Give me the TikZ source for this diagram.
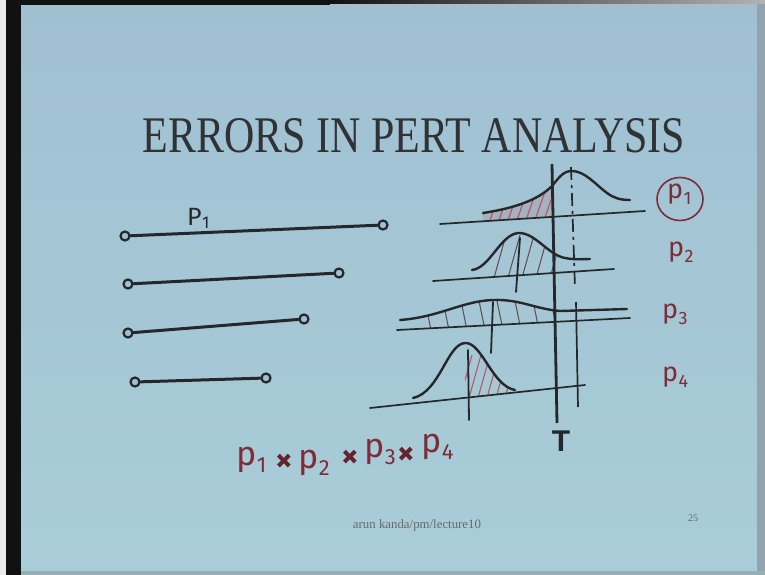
\documentclass[tikz,border=0pt]{standalone}
\usepackage{fontspec}
\usetikzlibrary{shapes.geometric}
\setmainfont{Liberation Serif}
\newfontfamily\handfont{Fira Sans}
\newfontfamily\markfont{Liberation Sans}
\definecolor{slidetop}{HTML}{A0C0D2}
\definecolor{slidelow}{HTML}{A9CDD8}
\definecolor{ink}{HTML}{25282B}
\definecolor{redink}{HTML}{7E2C38}
\definecolor{hatchred}{HTML}{B45A62}
\definecolor{hatchdark}{HTML}{5E4A50}
\definecolor{framedark}{HTML}{111111}
\newcommand\psub[2]{p\kern0.5pt\raisebox{-0.22em}{\fontsize{#2}{#2}\selectfont #1}}
\begin{document}
\begin{tikzpicture}[x=1pt,y=-1pt,
  penline/.style={ink,line width=3pt,line cap=round},
  endpt/.style={circle,draw=ink,line width=2.2pt,fill=slidetop,inner sep=0pt,minimum size=9pt},
  curveline/.style={ink,line width=2.4pt,line cap=round},
  axisline/.style={ink,line width=1.7pt,line cap=round},
  markline/.style={ink,line width=1.8pt,line cap=round},
  hatchline/.style={hatchdark,line width=1pt},
  smallp/.style={font=\handfont\fontsize{27}{27}\selectfont,text=redink,inner sep=0pt,anchor=mid west},
  bigp/.style={font=\handfont\fontsize{34}{34}\selectfont,text=redink,inner sep=0pt,anchor=mid west},
  timessign/.style={font=\handfont\bfseries\fontsize{34}{34}\selectfont,text=redink!80!black,inner sep=0pt}
]
\useasboundingbox (0,0) rectangle (765,575);
% slide background and frame
\shade[top color=slidetop,bottom color=slidelow] (0,0) rectangle (765,575);
\fill[framedark] (0,0) rectangle (21,575);
\fill[gray!15] (0,0) rectangle (6,575);
\fill[framedark] (6,0) rectangle (330,5);
\shade[left color=framedark,right color=gray!60] (330,0) rectangle (765,4);
\fill[gray!45!slidetop] (757,4) rectangle (765,575);
\fill[gray!40!slidelow] (21,571) rectangle (765,575);

% title
\node[anchor=base,inner sep=0pt,text=ink!95] (title) at (414,153)
  {\resizebox{542pt}{34pt}{\fontsize{48}{48}\selectfont ERRORS IN PERT ANALYSIS}};

% activity lines
\node[endpt] (a1) at (125,236) {};
\node[endpt] (b1) at (383,225) {};
\node[endpt] (a2) at (128,284) {};
\node[endpt] (b2) at (339,273) {};
\node[endpt] (a3) at (128,333) {};
\node[endpt] (b3) at (304,319) {};
\node[endpt] (a4) at (135,382) {};
\node[endpt] (b4) at (266,378) {};
\draw[penline] (a1) -- (b1);
\draw[penline] (a2) -- (b2);
\draw[penline] (a3) -- (b3);
\draw[penline] (a4) -- (b4);
\node[font=\handfont\fontsize{25}{25}\selectfont,text=ink,anchor=base west,inner sep=0pt] (lp1) at (187,225) {P\kern0.5pt\raisebox{-0.12em}{\fontsize{17}{17}\selectfont 1}};

% distribution 1
\begin{scope}
\clip (483,213) .. controls (515,208) and (538,200) .. (552,186) -- (553,217) -- (483,221.5) -- cycle;
\fill[hatchred,opacity=0.18] (470,160) rectangle (560,230);
\foreach \x in {470,479,...,560} \draw[hatchred,line width=1.2pt] (\x,226) -- (\x+16,180);
\end{scope}
\draw[axisline] (440,224) -- (645,211);
\draw[curveline] (483,213) .. controls (515,208) and (538,200) .. (552,186)
  .. controls (560,176) and (564,171) .. (572,171)
  .. controls (585,171) and (596,185) .. (607,193)
  .. controls (614,198) and (620,200) .. (630,200);

% distribution 2
\begin{scope}
\clip (472,270) .. controls (490,268) and (500,235) .. (518,233) .. controls (535,232) and (548,255) .. (565,258) .. controls (575,260) and (583,259) .. (590,259) -- (590,270.6) -- (472,278.4) -- cycle;
\foreach \x in {492,506,...,560} \draw[hatchline] (\x,285) -- (\x+14,235);
\end{scope}
\draw[axisline] (433,281) -- (614,269);
\draw[curveline] (472,270) .. controls (490,268) and (500,235) .. (518,233)
  .. controls (535,232) and (548,255) .. (565,258)
  .. controls (575,260) and (583,259) .. (590,259);
\draw[markline] (520,238) -- (516,292);

% distribution 3
\begin{scope}
\clip (402,319) .. controls (440,317) and (462,301) .. (493,300) .. controls (520,299) and (535,309) .. (560,311) -- (560,321.3) -- (402,329.7) -- cycle;
\foreach \x in {424,442,...,552} \draw[hatchline] (\x,296) -- (\x+8,335);
\end{scope}
\draw[curveline] (400,320) .. controls (440,317) and (462,301) .. (493,300)
  .. controls (520,299) and (535,309) .. (560,311) -- (627,309);
\draw[axisline] (397,330) -- (630,318);
\draw[markline] (493,302) -- (491,353);

% distribution 4
\begin{scope}
\clip (465,343) .. controls (482,342) and (492,386) .. (515,390) -- (515,392.5) -- (465,397.8) -- cycle;
\foreach \x in {458,467,...,515} \draw[hatchred,line width=1.1pt] (\x,405) -- (\x+14,355);
\end{scope}
\draw[axisline] (370,408) -- (585,385);
\draw[curveline] (413,398) .. controls (440,392) and (447,344) .. (465,343)
  .. controls (482,342) and (492,386) .. (515,390);
\draw[markline] (468,350) -- (469,420);

% limit T and mean line
\node[font=\markfont\bfseries\fontsize{30}{30}\selectfont,text=ink,anchor=north,inner sep=0pt] (tl) at (561,431) {T};
\coordinate (ttop) at (552,164);
\coordinate (tbot) at (557,423);
\draw[ink,line width=2.8pt] (ttop) -- (tbot);
\coordinate (dtop) at (571,167);
\coordinate (dmid) at (575,288);
\coordinate (dlow) at (576,302);
\coordinate (dbot) at (578,407);
\draw[ink,line width=1.7pt,dash pattern=on 13pt off 5pt on 3pt off 5pt] (dtop) -- (dmid);
\draw[ink,line width=1.7pt] (dlow) -- (dbot);

% right labels
\node[smallp] (r1) at (667,196) {\psub{1}{18}};
\node[ellipse,draw=redink,line width=1.6pt,minimum width=46pt,minimum height=43pt,inner sep=0pt] (ring) at (680,199) {};
\node[smallp] (r2) at (668,254) {\psub{2}{18}};
\node[smallp] (r3) at (662,316) {\psub{3}{18}};
\node[smallp] (r4) at (662,379) {\psub{4}{18}};

% product
\node[bigp] (f1) at (236,463) {\psub{1}{22}};
\node[timessign] (x1) at (284,463) {×};
\node[bigp] (f2) at (298,466) {\psub{2}{22}};
\node[timessign] (x2) at (350,459) {×};
\node[bigp] (f3) at (364,455) {\psub{3}{22}};
\node[timessign] (x3) at (406,456) {×};
\node[bigp] (f4) at (421,450) {\psub{4}{22}};

% footer
\node[inner sep=0pt,text=ink!70] (foot) at (417,525) {\resizebox{128pt}{!}{\fontsize{11}{11}\selectfont arun kanda/pm/lecture10}};
\node[inner sep=0pt,text=ink!70,font=\fontsize{10}{10}\selectfont] (pg) at (693,518) {25};
\end{tikzpicture}
\end{document}
